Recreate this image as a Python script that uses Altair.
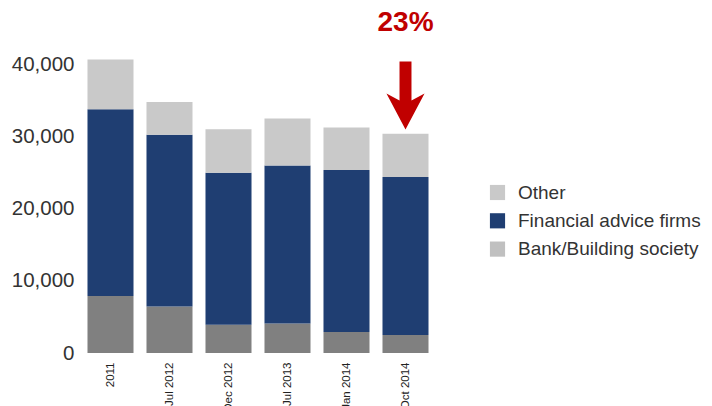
import altair as alt
import pandas as pd

periods = ["2011", "Jul 2012", "Dec 2012", "Jul 2013", "Jan 2014", "Oct 2014"]
bank = [7900, 6450, 3900, 4100, 2900, 2500]
advice = [25900, 23800, 21100, 21900, 22450, 21900]
other = [6900, 4550, 6000, 6500, 5900, 6000]
series = ["Other", "Financial advice firms", "Bank/Building society"]
colors = ["#c9c9c9", "#1f3e72", "#808080"]
legend_colors = ["#c9c9c9", "#1f3e72", "#c0c0c0"]
y_ticks = [0, 10000, 20000, 30000, 40000]

annotation_label = "23%"
annotation_period = "Oct 2014"
annotation_text_y = 45700
arrow_y = 35700

rows = []
for i, p in enumerate(periods):
    rows.append({"period": p, "series": "Bank/Building society", "value": bank[i], "rank": 0})
    rows.append({"period": p, "series": "Financial advice firms", "value": advice[i], "rank": 1})
    rows.append({"period": p, "series": "Other", "value": other[i], "rank": 2})
df = pd.DataFrame(rows)

ann = pd.DataFrame([{"period": annotation_period, "ty": annotation_text_y, "ay": arrow_y, "label": annotation_label}])

FONT = "Liberation Sans"

x_enc = alt.X(
    "period:N",
    sort=periods,
    title=None,
    scale=alt.Scale(paddingInner=0.22, paddingOuter=0.11),
    axis=alt.Axis(labelAngle=-90, labelAlign="right", labelBaseline="middle",
                  labelFontSize=11.5, labelColor="#222", labelPadding=9,
                  ticks=False, domain=False, labelFont=FONT),
)

y_scale = alt.Scale(domain=[0, 42000], nice=False)

bars = alt.Chart(df).mark_bar().encode(
    x=x_enc,
    y=alt.Y("value:Q", stack="zero", title=None, scale=y_scale,
            axis=alt.Axis(values=y_ticks, format=",d", grid=False, ticks=False,
                          domain=False, labelFontSize=20.5, labelColor="#333",
                          labelPadding=7, labelFont=FONT)),
    color=alt.Color("series:N", scale=alt.Scale(domain=series, range=colors), legend=None),
    order=alt.Order("rank:Q", sort="ascending"),
)

legend_layer = alt.Chart(df).mark_bar().encode(
    x=alt.X("period:N", sort=periods),
    y=alt.Y("value:Q", stack="zero", scale=y_scale),
    color=alt.Color(
        "series:N",
        scale=alt.Scale(domain=series, range=legend_colors),
        legend=alt.Legend(
            title=None, orient="none", legendX=407, legendY=133, padding=0,
            symbolType="square", symbolSize=230, symbolStrokeWidth=0,
            labelFontSize=19, labelColor="#333", labelFont=FONT,
            labelOffset=11, rowPadding=8.3, labelLimit=400,
        ),
    ),
).transform_filter("datum.rank < 0")

arrow_path = "M -0.176 -1 L 0.176 -1 L 0.176 0.15 L 0.56 -0.06 L 0 1 L -0.56 -0.06 L -0.176 0.15 Z"

arrow = alt.Chart(ann).mark_point(
    shape=arrow_path, filled=True, color="#c00000", size=4624, opacity=1, strokeWidth=0
).encode(
    x=alt.X("period:N", sort=periods),
    y=alt.Y("ay:Q", scale=y_scale),
)

label = alt.Chart(ann).mark_text(
    font=FONT, fontSize=28, fontWeight="bold", color="#c00000", baseline="middle", align="center"
).encode(
    x=alt.X("period:N", sort=periods),
    y=alt.Y("ty:Q", scale=y_scale),
    text="label:N",
)

chart = alt.layer(bars, legend_layer, arrow, label).resolve_scale(
    color="independent"
).properties(
    width=354,
    height=303,
    background="white",
    autosize=alt.AutoSizeParams(type="none"),
    padding={"left": 73, "top": 42, "right": 269, "bottom": 53},
).configure_view(stroke=None)

chart.save("out.html", embed_options={"renderer": "svg", "actions": False})
